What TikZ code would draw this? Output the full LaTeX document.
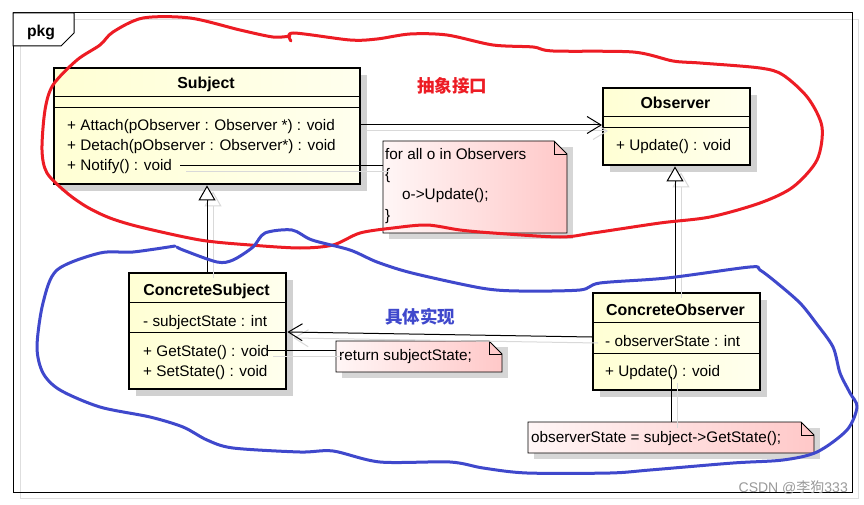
\documentclass[tikz,border=0pt]{standalone}
\usepackage{fontspec}
\setmainfont{Liberation Sans}
\newfontfamily\cjk{Noto Sans CJK SC}
\usetikzlibrary{arrows.meta,calc,shadows}
\definecolor{clsA}{HTML}{FFFFD4}
\definecolor{clsB}{HTML}{FFFFEE}
\definecolor{noteA}{HTML}{FFF6F6}
\definecolor{noteB}{HTML}{FFC8C8}
\definecolor{paintred}{HTML}{ED1C24}
\definecolor{paintblue}{HTML}{3F48CC}
\newcommand{\drawnote}[1]{%
  \fill[black!16] ($(#1.north west)+(6,6)$) -- ($(#1.north east)+(6,6)$) -- ($(#1.south east)+(6,6)$) -- ($(#1.south west)+(6,6)$) -- cycle;
  \draw[notebody] (#1.north west) -- ($(#1.north east)+(-13,0)$) -- ($(#1.north east)+(0,13)$) -- (#1.south east) -- (#1.south west) -- cycle;
  \draw[line width=0.8pt] ($(#1.north east)+(-13,0)$) -- ($(#1.north east)+(-13,13)$) -- ($(#1.north east)+(0,13)$);
}
\tikzset{
  clsbox/.style={draw, line width=2.4pt, inner sep=0pt, anchor=north west, left color=clsA, right color=clsB,
    drop shadow={shadow xshift=7pt, shadow yshift=-7pt, fill=black!18, opacity=1}},
  ctitle/.style={font=\fontsize{15.9}{18}\selectfont\bfseries, anchor=base, inner sep=0pt},
  member/.style={anchor=base west, inner sep=0pt},
  sep/.style={line width=1pt},
  notepos/.style={inner sep=0pt, outer sep=0pt, anchor=north west},
  notebody/.style={draw, line width=0.8pt, left color=noteA, right color=noteB},
  conn/.style={line width=1pt},
  shadowline/.style={draw=black!15, line width=1pt, transform canvas={shift={(6pt,-6pt)}}},
  assoc/.style={-{Straight Barb[length=14pt,width=17pt]}},
  gen/.style={-{Triangle[length=15pt,width=17pt,fill=white]}},
  paint/.style={line width=3pt, line cap=round, line join=round},
}
\begin{document}
\begin{tikzpicture}[x=1pt,y=-1pt, font=\fontsize{15.3}{18}\selectfont]
\useasboundingbox (0,0) rectangle (864,505);
\fill[white] (0,0) rectangle (864,505);
% package frame
\draw[black!13, line width=1pt] (20,20) rectangle (858,498);
\draw[line width=1pt] (13,13) rectangle (852,492);
\draw[line width=1pt, fill=white] (13,13) -- (74,13) -- (74,33) -- (61,46) -- (13,46) -- cycle;
\node[font=\fontsize{15.7}{18}\selectfont\bfseries, anchor=base, inner sep=0pt] (pkg) at (41,37) {pkg};

% classes
\node[clsbox, minimum width=306pt, minimum height=116pt] (subject) at (53,67) {};
\draw[sep] (subject.west |- 0,97) -- (subject.east |- 0,97);
\draw[sep] (subject.west |- 0,108) -- (subject.east |- 0,108);

\node[clsbox, minimum width=147pt, minimum height=77pt] (observer) at (602,87) {};
\draw[sep] (observer.west |- 0,117) -- (observer.east |- 0,117);
\draw[sep] (observer.west |- 0,128) -- (observer.east |- 0,128);

\node[clsbox, minimum width=157pt, minimum height=116pt] (csubject) at (128,272) {};
\draw[sep] (csubject.west |- 0,302) -- (csubject.east |- 0,302);
\draw[sep] (csubject.west |- 0,332) -- (csubject.east |- 0,332);

\node[clsbox, minimum width=167pt, minimum height=97pt] (cobserver) at (592,292) {};
\draw[sep] (cobserver.west |- 0,322) -- (cobserver.east |- 0,322);
\draw[sep] (cobserver.west |- 0,353) -- (cobserver.east |- 0,353);

% notes
\node[notepos, minimum width=184pt, minimum height=92pt] (n1) at (383,141) {};
\drawnote{n1}
\node[notepos, minimum width=166pt, minimum height=31pt] (n2) at (336,341) {};
\drawnote{n2}
\node[notepos, minimum width=286pt, minimum height=31pt] (n3) at (528,422) {};
\drawnote{n3}

% class texts
\node[ctitle] (subjectT) at (206,89) {Subject};
\node[member] (attach) at (67,131) {+ Attach(pObserver : Observer *) : void};
\node[member] (detach) at (67,151) {+ Detach(pObserver : Observer*) : void};
\node[member] (notify) at (67,171) {+ Notify() : void};

\node[ctitle] (observerT) at (675.5,109) {Observer};
\node[member] (oupdate) at (616,151) {+ Update() : void};

\node[ctitle] (csubjectT) at (206.5,295) {ConcreteSubject};
\node[member] (substate) at (143,326) {- subjectState : int};
\node[member] (getstate) at (143,356) {+ GetState() : void};
\node[member] (setstate) at (143,376) {+ SetState() : void};

\node[ctitle] (cobserverT) at (675.5,315) {ConcreteObserver};
\node[member] (obsstate) at (605,346) {- observerState : int};
\node[member] (coupdate) at (605,376) {+ Update() : void};

% note texts
\node[member] (n1a) at (385,160) {for all o in Observers};
\node[member] (n1b) at (385,180) {\{};
\node[member] (n1c) at (402,200) {o->Update();};
\node[member] (n1d) at (385,220) {\}};
\node[member] (n2a) at (339,360) {return subjectState;};
\node[member] (n3a) at (531,442) {observerState = subject->GetState();};

% connector anchors
\coordinate (nfend) at (180,166);
\coordinate (gsend) at (267,350);
\coordinate (upend) at (671,377);

% connector shadows
\draw[shadowline] (nfend) -- (nfend -| n1.west);
\draw[shadowline] (gsend) -- (gsend -| n2.west);
\draw[shadowline] (upend) -- (upend |- n3.north);
\draw[shadowline, assoc] (subject.east |- 0,125) -- (observer.west |- 0,125);
\draw[shadowline, assoc] (cobserver.west |- 0,337) -- (csubject.east |- 0,332);
\draw[shadowline, gen] (csubject.north -| 207,0) -- (subject.south -| 207,0);
\draw[shadowline, gen] (cobserver.north -| 675,0) -- (observer.south -| 675,0);

% connectors
\draw[conn] (nfend) -- (nfend -| n1.west);
\draw[conn] (gsend) -- (gsend -| n2.west);
\draw[conn] (upend) -- (upend |- n3.north);
\draw[conn, assoc] (subject.east |- 0,125) -- (observer.west |- 0,125);
\draw[conn, assoc] (cobserver.west |- 0,337) -- (csubject.east |- 0,332);
\draw[conn, gen] (csubject.north -| 207,0) -- (subject.south -| 207,0);
\draw[conn, gen] (cobserver.north -| 675,0) -- (observer.south -| 675,0);

% labels
\node[text=paintred, font=\cjk\bfseries\fontsize{17.5}{20}\selectfont, inner sep=0pt] (lblA) at (452,86) {抽象接口};
\node[text=paintblue, font=\cjk\bfseries\fontsize{17.5}{20}\selectfont, inner sep=0pt] (lblB) at (420,317) {具体实现};
\node[text=black!40, font=\fontsize{14}{16}\selectfont, inner sep=0pt, anchor=east] (wm) at (848,488) {CSDN @{\cjk 李狗}333};

% hand-drawn loops
\draw[paint, paintred] plot[smooth, tension=0.5] coordinates {
 (291,41) (293,33) (350,40) (377,39) (410,34) (447,35) (493,45) (533,47) (553,51) (633,52)
 (673,61) (700,63) (760,68) (783,75) (808,98) (822,127) (817,160) (793,187) (760,203) (710,217)
 (660,223) (593,233) (560,237) (493,233) (460,230) (427,225) (393,228) (360,233) (333,245) (300,248)
 (250,245) (200,240) (140,227) (110,218) (87,207) (67,193) (47,173) (42,150) (45,110) (53,85)
 (77,60) (100,45) (113,32) (143,18) (190,18) (240,30) (273,37) (290,36)};
\draw[paint, paintblue] plot[smooth, tension=0.5] coordinates {
 (177,247) (183,250) (217,262) (233,260) (253,247) (265,233) (292,230) (312,240) (350,250) (377,262)
 (412,273) (481,288) (519,291) (580,290) (600,283) (667,278) (750,267) (760,270) (777,283) (800,303)
 (816,323) (833,347) (840,373) (850,393) (857,407) (847,430) (817,452) (783,460) (733,463) (650,470)
 (610,473) (527,473) (483,468) (450,462) (380,462) (333,451) (300,452) (233,448) (207,440) (183,427)
 (150,417) (100,407) (60,390) (43,373) (37,347) (43,303) (57,270) (100,253) (133,252) (175,246)};
\end{tikzpicture}
\end{document}
